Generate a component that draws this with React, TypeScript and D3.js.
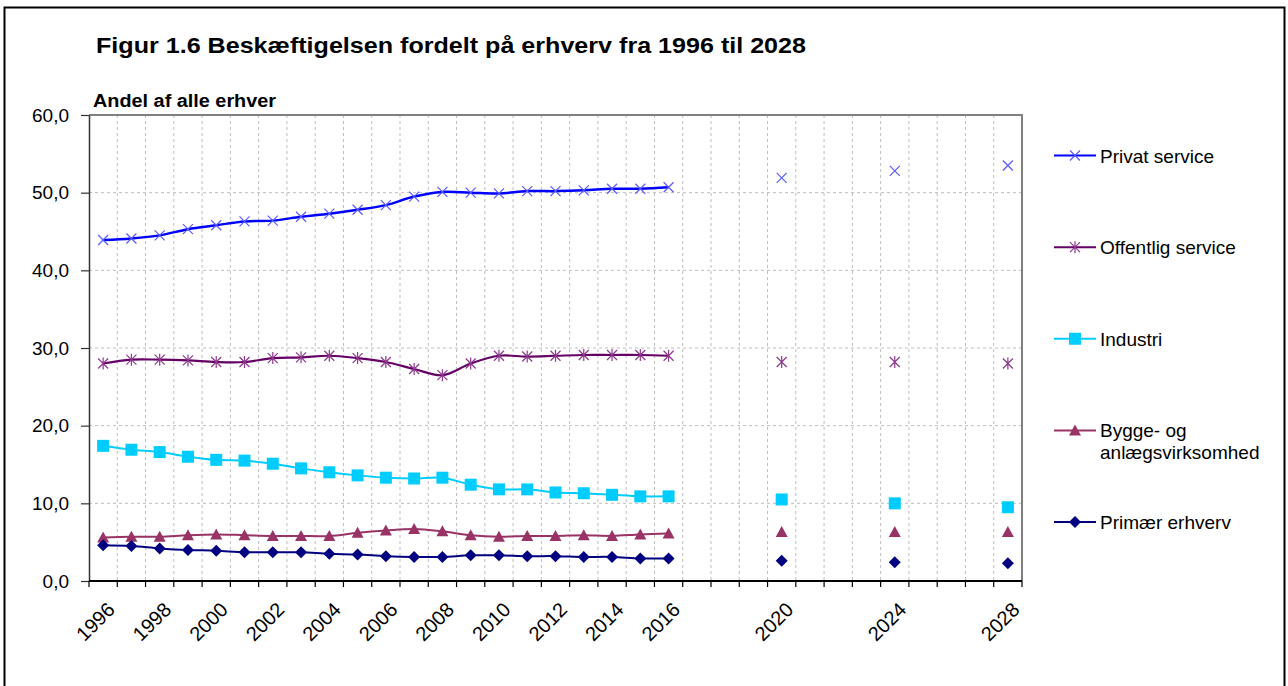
import React, { useRef, useEffect } from 'react';
import * as d3 from 'd3';

// kategorier på x-aksen (et felt pr. år)
const categories = [
  '1996', '1997', '1998', '1999', '2000', '2001', '2002', '2003', '2004', '2005', '2006',
  '2007', '2008', '2009', '2010', '2011', '2012', '2013', '2014', '2015', '2016', '2017',
  '2018', '2019', '2020', '2021', '2022', '2023', '2024', '2025', '2026', '2027', '2028',
];
const tickLabels = [
  '1996', '1998', '2000', '2002', '2004', '2006', '2008', '2010', '2012', '2014', '2016',
  '2020', '2024', '2028',
];
const yTicks = [0, 10, 20, 30, 40, 50, 60];

const histYears = [
  '1996', '1997', '1998', '1999', '2000', '2001', '2002', '2003', '2004', '2005', '2006',
  '2007', '2008', '2009', '2010', '2011', '2012', '2013', '2014', '2015', '2016',
];
const progYears = ['2020', '2024', '2028'];

const privatHist = [43.9, 44.1, 44.5, 45.3, 45.8, 46.3, 46.4, 46.9, 47.3, 47.8, 48.4, 49.5, 50.1, 50.0, 49.9, 50.2, 50.2, 50.3, 50.5, 50.5, 50.7];
const privatProg = [51.9, 52.8, 53.5];
const offentligHist = [28.0, 28.5, 28.5, 28.4, 28.2, 28.2, 28.7, 28.8, 29.0, 28.7, 28.2, 27.3, 26.5, 28.0, 29.0, 28.9, 29.0, 29.1, 29.1, 29.1, 29.0];
const offentligProg = [28.2, 28.2, 28.0];
const industriHist = [17.4, 16.9, 16.6, 16.0, 15.6, 15.5, 15.1, 14.5, 14.0, 13.6, 13.3, 13.2, 13.3, 12.4, 11.8, 11.8, 11.4, 11.3, 11.1, 10.9, 10.9];
const industriProg = [10.5, 10.0, 9.5];
const byggeHist = [5.6, 5.7, 5.7, 5.9, 6.0, 5.9, 5.8, 5.8, 5.8, 6.2, 6.5, 6.7, 6.4, 5.9, 5.7, 5.8, 5.8, 5.9, 5.8, 6.0, 6.1];
const byggeProg = [6.3, 6.3, 6.3];
const primaerHist = [4.6, 4.5, 4.2, 4.0, 3.9, 3.7, 3.7, 3.7, 3.5, 3.4, 3.2, 3.1, 3.1, 3.3, 3.3, 3.2, 3.2, 3.1, 3.1, 2.9, 2.9];
const primaerProg = [2.6, 2.4, 2.3];

const seriesNames = ['Privat service', 'Offentlig service', 'Industri', 'Bygge- og anlægsvirksomhed', 'Primær erhverv'];

const series = [
  { name: seriesNames[0], hist: privatHist, prog: privatProg, line: '#0000ff', mark: '#5a5aff', shape: 'x', lw: 2.5 },
  { name: seriesNames[1], hist: offentligHist, prog: offentligProg, line: '#660066', mark: '#8e3a8e', shape: 'star', lw: 2.2 },
  { name: seriesNames[2], hist: industriHist, prog: industriProg, line: '#00ccff', mark: '#00ccff', shape: 'square', lw: 2 },
  { name: seriesNames[3], hist: byggeHist, prog: byggeProg, line: '#993366', mark: '#993366', shape: 'triangle', lw: 2 },
  { name: seriesNames[4], hist: primaerHist, prog: primaerProg, line: '#000080', mark: '#000080', shape: 'diamond', lw: 2 },
];

const FONT = '"Liberation Sans", Arial, sans-serif';

const shapePath = (shape) => {
  if (shape === 'x') return 'M-5,-5L5,5M-5,5L5,-5';
  if (shape === 'star') return 'M-5,-5L5,5M-5,5L5,-5M0,-6L0,6';
  if (shape === 'square') return 'M-6,-6H6V6H-6Z';
  if (shape === 'triangle') return 'M0,-6L6,5L-6,5Z';
  return 'M0,-6L6,0L0,6L-6,0Z';
};

const drawMarker = (g, shape, color, x, y) => {
  const filled = shape === 'square' || shape === 'triangle' || shape === 'diamond';
  g.append('path')
    .attr('d', shapePath(shape))
    .attr('transform', `translate(${x},${y})`)
    .attr('fill', filled ? color : 'none')
    .attr('stroke', filled ? 'none' : color)
    .attr('stroke-width', 1.2);
};

const App = () => {
  const svgRef = useRef(null);

  useEffect(() => {
    const width = 1288;
    const height = 686;
    const left = 89, right = 1022, top = 115, bottom = 581;

    const svg = d3.select(svgRef.current).attr('width', width).attr('height', height);
    svg.selectAll('*').remove();

    const x = d3.scaleBand().domain(categories).range([left, right]);
    const y = d3.scaleLinear().domain([0, 60]).range([bottom, top]);
    const cx = (c) => x(c) + x.bandwidth() / 2;

    // ramme om hele figuren
    svg.append('rect')
      .attr('x', 4.5).attr('y', 7.5).attr('width', 1280).attr('height', 700)
      .attr('fill', '#fff').attr('stroke', '#000').attr('stroke-width', 2);

    // titel
    svg.append('text')
      .attr('x', 96).attr('y', 53)
      .attr('font-family', FONT).attr('font-size', 22).attr('font-weight', 'bold')
      .attr('textLength', 710).attr('lengthAdjust', 'spacingAndGlyphs')
      .text('Figur 1.6 Beskæftigelsen fordelt på erhverv fra 1996 til 2028');

    svg.append('text')
      .attr('x', 93).attr('y', 107)
      .attr('font-family', FONT).attr('font-size', 18).attr('font-weight', 'bold')
      .attr('textLength', 183).attr('lengthAdjust', 'spacingAndGlyphs')
      .text('Andel af alle erhver');

    // gitter
    const grid = svg.append('g').attr('stroke', '#bdbdbd').attr('stroke-dasharray', '3,3').attr('stroke-width', 1);
    yTicks.filter(t => t > 0 && t < 60).forEach(t => {
      grid.append('line').attr('x1', left).attr('x2', right).attr('y1', y(t)).attr('y2', y(t));
    });
    categories.slice(1).forEach(c => {
      grid.append('line').attr('x1', x(c)).attr('x2', x(c)).attr('y1', top).attr('y2', bottom);
    });

    // kant på plotområdet (top og højre)
    svg.append('path')
      .attr('d', `M${left},${top}H${right}V${bottom}`)
      .attr('fill', 'none').attr('stroke', '#808080').attr('stroke-width', 2);

    // y-akse
    const yAxis = svg.append('g').attr('transform', `translate(${left},0)`)
      .call(d3.axisLeft(y).tickValues(yTicks).tickSize(8).tickSizeOuter(0).tickPadding(12)
        .tickFormat(d => d3.format('.1f')(d).replace('.', ',')));
    yAxis.select('.domain').attr('stroke', '#333').attr('stroke-width', 1.5);
    yAxis.selectAll('.tick line').attr('stroke', '#333').attr('stroke-width', 1.2);
    yAxis.selectAll('.tick text').attr('font-family', FONT).attr('font-size', 19).attr('fill', '#000');

    // x-akse
    const xAxis = svg.append('g');
    xAxis.append('line').attr('x1', left).attr('x2', right).attr('y1', bottom).attr('y2', bottom)
      .attr('stroke', '#000').attr('stroke-width', 2);
    [...categories.map(c => x(c)), right].forEach(px => {
      xAxis.append('line').attr('x1', px).attr('x2', px).attr('y1', bottom).attr('y2', bottom + 6)
        .attr('stroke', '#000').attr('stroke-width', 1.2);
    });
    tickLabels.forEach(t => {
      xAxis.append('text')
        .attr('transform', `translate(${cx(t) + 3},${bottom + 20}) rotate(-45)`)
        .attr('text-anchor', 'end').attr('dy', '0.7em')
        .attr('font-family', FONT).attr('font-size', 20)
        .text(t);
    });

    // serier
    const line = d3.line()
      .x(d => cx(d[0]))
      .y(d => y(d[1]))
      .curve(d3.curveCatmullRom.alpha(0.5));

    series.forEach(s => {
      const pts = histYears.map((yr, i) => [yr, s.hist[i]]);
      svg.append('path')
        .attr('d', line(pts))
        .attr('fill', 'none').attr('stroke', s.line).attr('stroke-width', s.lw);
      const mg = svg.append('g');
      pts.forEach(p => drawMarker(mg, s.shape, s.mark, cx(p[0]), y(p[1])));
      progYears.forEach((yr, i) => drawMarker(mg, s.shape, s.mark, cx(yr), y(s.prog[i])));
    });

    // forklaring
    const legendY = d3.scalePoint().domain(seriesNames).range([155.5, 522]);
    series.forEach(s => {
      const ly = legendY(s.name);
      const g = svg.append('g');
      g.append('line').attr('x1', 1054).attr('x2', 1096).attr('y1', ly).attr('y2', ly)
        .attr('stroke', s.line).attr('stroke-width', 2);
      drawMarker(g, s.shape, s.mark, 1075, ly);
      const words = s.name === seriesNames[3] ? ['Bygge- og', 'anlægsvirksomhed'] : [s.name];
      words.forEach((w, i) => {
        g.append('text')
          .attr('x', 1100).attr('y', ly + 7 + i * 21.5)
          .attr('font-family', FONT).attr('font-size', 19)
          .text(w);
      });
    });
  }, []);

  return (
    <div style={{ position: 'absolute', left: 0, top: 0 }}>
      <svg ref={svgRef} style={{ display: 'block' }} />
    </div>
  );
};

export default App;
